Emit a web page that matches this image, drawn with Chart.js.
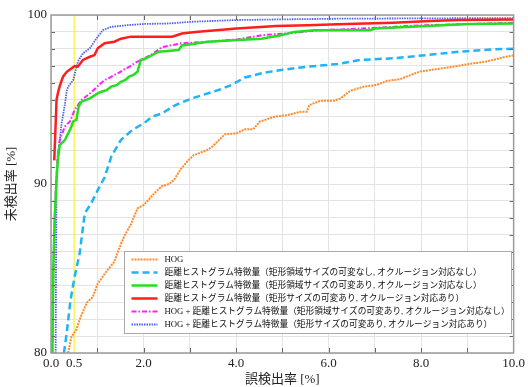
<!DOCTYPE html>
<html>
<head>
<meta charset="utf-8">
<script src="https://cdn.jsdelivr.net/npm/chart.js@4"></script>
<style>
  html, body { margin: 0; padding: 0; background: #fff; }
  #wrap { width: 528px; height: 387px; }
</style>
</head>
<body>
<div id="wrap"><canvas id="chart"></canvas></div>
<script>
const labels = [
    'HOG',
    '距離ヒストグラム特徴量（矩形領域サイズの可変なし, オクルージョン対応なし）',
    '距離ヒストグラム特徴量（矩形領域サイズの可変あり, オクルージョン対応なし）',
    '距離ヒストグラム特徴量（矩形サイズの可変あり, オクルージョン対応あり）',
    'HOG + 距離ヒストグラム特徴量（矩形領域サイズの可変あり, オクルージョン対応なし）',
    'HOG + 距離ヒストグラム特徴量（矩形サイズの可変あり, オクルージョン対応あり）'
];

// HOG (orange, dotted)
const hogX = [0.37, 0.44, 0.55, 0.65, 0.78, 0.9, 1.01, 1.19, 1.37, 1.46, 1.58, 1.72, 1.87, 2.0, 2.12, 2.25, 2.4, 2.55, 2.66, 2.8, 2.94, 3.08, 3.37, 3.48, 3.76, 4.01, 4.19, 4.37, 4.51, 4.83, 5.12, 5.4, 5.53, 5.58, 5.83, 6.12, 6.26, 6.47, 6.76, 7.04, 7.26, 7.54, 7.97, 8.69, 9.12, 9.4, 9.83, 10.0];
const hogY = [80.0, 80.95, 81.4, 82.2, 83.0, 83.3, 84.1, 84.8, 85.4, 86.1, 86.9, 87.57, 88.56, 88.75, 89.1, 89.5, 89.88, 90.0, 90.24, 90.87, 91.32, 91.7, 92.0, 92.2, 92.94, 93.0, 93.24, 93.24, 93.69, 93.98, 94.08, 94.28, 94.28, 94.67, 94.93, 94.93, 95.07, 95.52, 95.76, 95.86, 96.1, 96.2, 96.65, 96.94, 97.14, 97.24, 97.53, 97.6];

// distance histogram, fixed size, no occlusion (cyan, dashed)
const dhFixedX = [0.28, 0.34, 0.42, 0.51, 0.62, 0.73, 0.87, 1.01, 1.16, 1.3, 1.51, 1.76, 2.01, 2.2, 2.4, 2.69, 3.05, 3.62, 3.9, 4.19, 4.55, 4.97, 5.55, 6.19, 6.69, 7.4, 8.12, 8.83, 9.54, 10.0];
const dhFixedY = [80.0, 81.2, 83.1, 84.5, 85.9, 88.27, 88.86, 89.64, 90.4, 91.6, 92.6, 93.2, 93.6, 94.0, 94.18, 94.67, 95.07, 95.56, 95.86, 96.3, 96.55, 96.75, 96.94, 97.1, 97.34, 97.44, 97.63, 97.83, 97.97, 98.0];

// distance histogram, variable size, no occlusion (green)
const dhVarX = [0.03, 0.05, 0.08, 0.12, 0.15, 0.19, 0.3, 0.41, 0.48, 0.55, 0.6, 0.66, 0.84, 1.01, 1.09, 1.2, 1.3, 1.42, 1.51, 1.6, 1.69, 1.78, 1.87, 1.94, 2.01, 2.33, 2.76, 2.83, 3.4, 4.05, 4.55, 4.97, 5.26, 5.69, 6.9, 7.0, 8.12, 9.04, 10.0];
const dhVarY = [80.0, 85.0, 88.0, 90.3, 91.5, 92.3, 92.6, 93.2, 93.7, 93.8, 94.6, 94.87, 95.07, 95.36, 95.46, 95.55, 95.76, 95.85, 96.05, 96.15, 96.35, 96.45, 96.64, 97.34, 97.38, 97.83, 97.93, 98.2, 98.42, 98.52, 98.6, 98.8, 99.0, 99.1, 99.1, 99.2, 99.35, 99.47, 99.5];

// distance histogram, variable size, occlusion (red)
const dhOccX = [0.07, 0.1, 0.12, 0.16, 0.19, 0.26, 0.34, 0.44, 0.51, 0.58, 0.69, 0.84, 0.94, 1.01, 1.16, 1.37, 1.51, 1.73, 2.62, 2.83, 3.12, 3.76, 4.01, 4.87, 5.55, 6.19, 7.4, 8.19, 8.83, 10.0];
const dhOccY = [91.4, 93.5, 95.0, 95.5, 95.8, 96.35, 96.64, 96.84, 96.98, 96.94, 97.34, 97.53, 97.63, 98.03, 98.33, 98.42, 98.6, 98.72, 98.72, 98.9, 99.0, 99.14, 99.2, 99.35, 99.4, 99.45, 99.54, 99.64, 99.7, 99.74];

// HOG + distance histogram, no occlusion (magenta, dash-dot)
const hogDhX = [0.03, 0.06, 0.1, 0.14, 0.19, 0.3, 0.41, 0.51, 0.66, 0.8, 0.94, 1.05, 1.16, 1.27, 1.37, 1.48, 1.58, 1.7, 1.8, 1.94, 2.16, 2.4, 2.83, 3.4, 4.05, 4.55, 5.26, 5.83, 6.69, 8.12, 10.0];
const hogDhY = [80.0, 86.0, 89.5, 91.5, 92.6, 93.4, 93.7, 94.38, 94.97, 95.27, 95.6, 95.9, 96.15, 96.3, 96.45, 96.6, 96.78, 96.95, 97.14, 97.34, 97.63, 98.1, 98.33, 98.42, 98.56, 98.8, 98.95, 99.1, 99.2, 99.4, 99.54];

// HOG + distance histogram, occlusion (blue, dotted)
const hogDhOccX = [0.1, 0.11, 0.12, 0.16, 0.19, 0.23, 0.3, 0.34, 0.37, 0.48, 0.58, 0.69, 0.84, 0.98, 1.12, 1.3, 1.66, 2.01, 2.55, 3.05, 3.98, 4.97, 6.19, 8.0, 10.0];
const hogDhOccY = [80.0, 86.0, 90.3, 91.8, 92.6, 93.6, 94.7, 95.5, 95.76, 96.15, 97.24, 97.73, 98.03, 98.6, 99.1, 99.3, 99.4, 99.47, 99.5, 99.6, 99.7, 99.74, 99.78, 99.8, 99.82];

// yellow marker at 0.5 %
const markerX = [0.5, 0.5];
const markerY = [80, 100];

const xTickValues = [0, 0.5, 2, 4, 6, 8, 10];
const xTickLabels = ['0.0', '0.5', '2.0', '4.0', '6.0', '8.0', '10.0'];
const yTickValues = [80, 90, 100];
const yTickLabels = ['80', '90', '100'];

const zip = (xs, ys) => xs.map((x, i) => ({ x, y: ys[i] }));

const FONT = '"Liberation Serif", "Noto Sans CJK JP", serif';

const datasets = [
    { label: labels[0], data: zip(hogX, hogY), borderColor: '#ff8a28', borderWidth: 2, borderDash: [2, 1] },
    { label: labels[1], data: zip(dhFixedX, dhFixedY), borderColor: '#1eb4f5', borderWidth: 2.5, borderDash: [7, 4] },
    { label: labels[2], data: zip(dhVarX, dhVarY), borderColor: '#22e01e', borderWidth: 2.5 },
    { label: labels[3], data: zip(dhOccX, dhOccY), borderColor: '#ff1e1e', borderWidth: 2.5 },
    { label: labels[4], data: zip(hogDhX, hogDhY), borderColor: '#ff1eff', borderWidth: 2, borderDash: [5, 2, 1.5, 2] },
    { label: labels[5], data: zip(hogDhOccX, hogDhOccY), borderColor: '#4d5ef2', borderWidth: 1.8, borderDash: [1.5, 1] },
    { label: '', data: zip(markerX, markerY), borderColor: '#f5ee10', borderWidth: 1 }
];

// box round the plot with short inward ticks on all four sides
const framePlugin = {
    id: 'frame',
    afterDatasetsDraw(chart) {
        const { ctx, chartArea: a, scales: { x, y } } = chart;
        ctx.save();
        ctx.strokeStyle = '#666';
        ctx.lineWidth = 1;
        ctx.beginPath();
        for (let v = 1; v < 10; v++) {
            const px = Math.round(x.getPixelForValue(v)) + 0.5;
            ctx.moveTo(px, a.top); ctx.lineTo(px, a.top + 5);
            ctx.moveTo(px, a.bottom); ctx.lineTo(px, a.bottom - 5);
        }
        for (let v = 81; v < 100; v++) {
            const py = Math.round(y.getPixelForValue(v)) + 0.5;
            ctx.moveTo(a.left, py); ctx.lineTo(a.left + 4, py);
            ctx.moveTo(a.right, py); ctx.lineTo(a.right - 4, py);
        }
        ctx.stroke();
        ctx.strokeStyle = '#9a9a9a';
        ctx.lineWidth = 1.5;
        ctx.strokeRect(a.left, a.top, a.right - a.left, a.bottom - a.top);
        ctx.restore();
    }
};

// legend in a white box inside the plot
const legendBoxPlugin = {
    id: 'legendBox',
    afterDraw(chart, args, o) {
        const { ctx, chartArea: a } = chart;
        const left = a.left + o.left, top = a.top + o.top;
        ctx.save();
        ctx.fillStyle = '#fff';
        ctx.fillRect(left, top, o.width, o.height);
        ctx.strokeStyle = '#aaa';
        ctx.lineWidth = 1;
        ctx.strokeRect(left, top, o.width, o.height);
        ctx.font = o.size + 'px ' + FONT;
        ctx.textBaseline = 'middle';
        chart.data.datasets.filter(d => d.label).forEach((d, i) => {
            const cy = top + o.first + i * o.row;
            ctx.beginPath();
            ctx.strokeStyle = d.borderColor;
            ctx.lineWidth = d.borderWidth;
            ctx.setLineDash(d.borderDash || []);
            ctx.moveTo(left + o.lineFrom, cy);
            ctx.lineTo(left + o.lineTo, cy);
            ctx.stroke();
            ctx.setLineDash([]);
            ctx.fillStyle = '#111';
            ctx.fillText(d.label, left + o.textX, cy);
        });
        ctx.restore();
    }
};

new Chart('chart', {
    type: 'line',
    data: { datasets },
    plugins: [framePlugin, legendBoxPlugin],
    options: {
        responsive: true,
        maintainAspectRatio: false,
        animation: false,
        layout: { padding: { top: 15, right: 10, left: 0, bottom: 0 } },
        elements: {
            point: { radius: 0 },
            line: { tension: 0, fill: false }
        },
        plugins: {
            legend: { display: false },
            tooltip: { enabled: false },
            legendBox: { left: 73.5, top: 236.5, width: 387, height: 82, first: 8, row: 13, lineFrom: 7, lineTo: 33, textX: 40, size: 8.7 }
        },
        scales: {
            x: {
                type: 'linear',
                min: 0,
                max: 10,
                afterBuildTicks: (scale) => {
                    const vals = [0, 0.5, 1, 2, 3, 4, 5, 6, 7, 8, 9, 10];
                    scale.ticks = vals.map(value => ({ value }));
                },
                afterFit: (scale) => { scale.height = 34; },
                grid: {
                    color: (c) => (c.tick && c.tick.value === 0.5) ? 'rgba(0,0,0,0)' : '#e3e3e3',
                    drawTicks: false
                },
                border: { display: false },
                ticks: {
                    autoSkip: false,
                    maxRotation: 0,
                    padding: 3,
                    color: '#222',
                    font: { family: FONT, size: 13 },
                    callback: (v) => {
                        const i = xTickValues.indexOf(v);
                        return i >= 0 ? xTickLabels[i] : '';
                    }
                },
                title: {
                    display: true,
                    text: '誤検出率 [%]',
                    color: '#222',
                    font: { family: FONT, size: 13 },
                    padding: { top: 0, bottom: 0 }
                }
            },
            y: {
                type: 'linear',
                min: 80,
                max: 100,
                afterFit: (scale) => { scale.width = 51; },
                grid: { color: '#e3e3e3', drawTicks: false },
                border: { display: false },
                ticks: {
                    stepSize: 1,
                    autoSkip: false,
                    padding: 4,
                    color: '#222',
                    font: { family: FONT, size: 13 },
                    callback: (v) => {
                        const i = yTickValues.indexOf(v);
                        return i >= 0 ? yTickLabels[i] : '';
                    }
                },
                title: {
                    display: true,
                    text: '未検出率 [%]',
                    color: '#222',
                    font: { family: FONT, size: 13 },
                    padding: { top: 4, bottom: 0 }
                }
            }
        }
    }
});
</script>
</body>
</html>
